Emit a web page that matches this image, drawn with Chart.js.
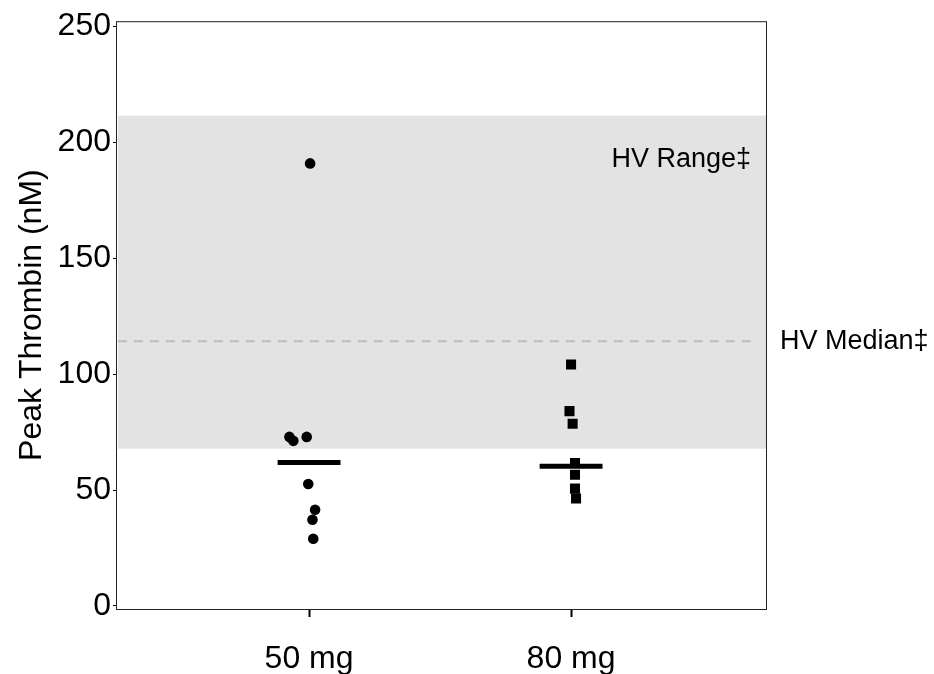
<!DOCTYPE html>
<html>
<head>
<meta charset="utf-8">
<script src="https://cdn.jsdelivr.net/npm/chart.js@4"></script>
<style>
  html, body { margin: 0; padding: 0; background: #ffffff; }
  #wrap { width: 934px; height: 674px; }
</style>
</head>
<body>
<div id="wrap"><canvas id="c" width="934" height="674"></canvas></div>
<script>
// ---- data ----
const categories = ["50 mg", "80 mg"];
const yTicks = [0, 50, 100, 150, 200, 250];

// 50 mg group (circles): values and horizontal jitter offsets (category units)
const dose50Values = [72.9, 71.2, 72.9, 190.8, 52.6, 41.5, 37.2, 29.0];
const dose50Jitter = [-0.075, -0.060, -0.009, 0.004, -0.003, 0.023, 0.013, 0.016];

// 80 mg group (squares)
const dose80Values = [104.1, 84.0, 78.6, 61.6, 56.6, 50.6, 46.3];
const dose80Jitter = [0.000, -0.006, 0.006, 0.015, 0.015, 0.015, 0.019];

// group medians
const medians = [61.9, 60.2];

// healthy volunteer reference
const hvRange = [67.8, 211.4];
const hvMedian = 114.1;
const hvRangeLabel = "HV Range\u2021";
const hvMedianLabel = "HV Median\u2021";
const yTitle = "Peak Thrombin (nM)";

// ---- build datasets ----
const pts50 = dose50Values.map((v, i) => ({ x: 1 + dose50Jitter[i], y: v }));
const pts80 = dose80Values.map((v, i) => ({ x: 2 + dose80Jitter[i], y: v }));
const halfBar = 0.12;
const medianSets = medians.map((m, i) => ({
  type: 'line',
  data: [{ x: i + 1 - halfBar, y: m }, { x: i + 1 + halfBar, y: m }],
  borderColor: '#000000',
  borderWidth: 5,
  borderCapStyle: 'butt',
  pointRadius: 0,
  showLine: true,
  order: 2
}));

const FONT = "'Liberation Sans', Arial, Helvetica, sans-serif";

const hvPlugin = {
  id: 'hv',
  beforeDatasetsDraw(chart) {
    const { ctx, chartArea: a, scales: { y } } = chart;
    const yTop = y.getPixelForValue(hvRange[1]);
    const yBot = y.getPixelForValue(hvRange[0]);
    ctx.save();
    ctx.fillStyle = '#e3e3e3';
    ctx.fillRect(a.left + 1, yTop, a.right - a.left - 1, yBot - yTop);
    const ym = y.getPixelForValue(hvMedian);
    ctx.strokeStyle = '#bdbdbd';
    ctx.lineWidth = 2;
    ctx.setLineDash([9, 7]);
    ctx.beginPath();
    ctx.moveTo(a.left + 1, ym);
    ctx.lineTo(a.right - 12, ym);
    ctx.stroke();
    ctx.restore();
  },
  afterDraw(chart) {
    const { ctx, chartArea: a, scales: { y } } = chart;
    ctx.save();
    ctx.strokeStyle = '#222222';
    ctx.lineWidth = 1;
    ctx.strokeRect(a.left - 0.5, a.top + 0.5, a.right - a.left + 1, a.bottom - a.top);
    ctx.fillStyle = '#000000';
    ctx.font = "27px " + FONT;
    ctx.textBaseline = 'middle';
    ctx.textAlign = 'right';
    ctx.fillText(hvRangeLabel, a.right - 15, y.getPixelForValue(192.3));
    ctx.textAlign = 'left';
    ctx.fillText(hvMedianLabel, a.right + 14, y.getPixelForValue(hvMedian));
    ctx.restore();
  }
};

new Chart(document.getElementById('c'), {
  type: 'scatter',
  data: {
    datasets: [
      {
        data: pts50,
        pointStyle: 'circle',
        pointRadius: 5.3,
        pointBackgroundColor: '#000000',
        pointBorderWidth: 0,
        order: 1
      },
      {
        data: pts80,
        pointStyle: 'rect',
        pointRadius: 7.1,
        pointBackgroundColor: '#000000',
        pointBorderWidth: 0,
        order: 1
      },
      ...medianSets
    ]
  },
  options: {
    responsive: false,
    animation: false,
    layout: { padding: { left: 0, right: 168, top: 18, bottom: 0 } },
    plugins: { legend: { display: false }, tooltip: { enabled: false } },
    scales: {
      x: {
        type: 'linear',
        min: 0.267,
        max: 2.744,
        afterBuildTicks(s) { s.ticks = categories.map((c, i) => ({ value: i + 1 })); },
        afterFit(s) { s.height = 65; },
        ticks: {
          callback: (v) => categories[Math.round(v) - 1],
          color: '#000000',
          font: { family: FONT, size: 32 },
          padding: 23,
          maxRotation: 0
        },
        grid: { drawOnChartArea: false, drawTicks: true, tickLength: 8, tickWidth: 2, tickColor: '#000000' },
        border: { display: false }
      },
      y: {
        type: 'linear',
        min: -1.3,
        max: 252.1,
        afterBuildTicks(s) { s.ticks = yTicks.map(v => ({ value: v })); },
        afterFit(s) { s.width = 117; },
        ticks: {
          color: '#000000',
          font: { family: FONT, size: 32 },
          padding: 2
        },
        title: {
          display: true,
          text: yTitle,
          color: '#000000',
          font: { family: FONT, size: 32 },
          padding: { top: 13, bottom: 0 }
        },
        grid: { drawOnChartArea: false, drawTicks: true, tickLength: 4, tickWidth: 1, tickColor: '#000000' },
        border: { display: false }
      }
    }
  },
  plugins: [hvPlugin]
});
</script>
</body>
</html>
